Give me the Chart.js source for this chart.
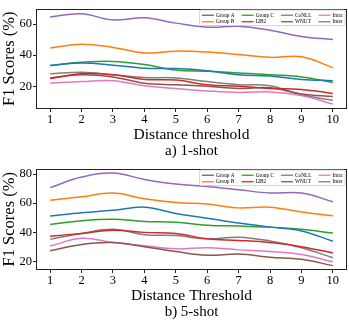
<!DOCTYPE html>
<html>
<head>
<meta charset="utf-8">
<script src="https://cdn.jsdelivr.net/npm/chart.js@4.4.0/dist/chart.umd.min.js"></script>
<style>
  html, body { margin: 0; padding: 0; background: #fff; }
  canvas { display: block; }
</style>
</head>
<body>
<canvas id="oneShot" width="349" height="160"></canvas>
<canvas id="fiveShot" width="349" height="161"></canvas>
<script>
// x categories (distance threshold)
const thresholds = [1, 2, 3, 4, 5, 6, 7, 8, 9, 10];
const seriesNames = ['Group A', 'Group B', 'Group C', 'I2B2', 'CoNLL', 'WNUT', 'Intra', 'Inter'];
const seriesColors = ['#1f77b4', '#ff7f0e', '#2ca02c', '#d62728', '#9467bd', '#8c564b', '#e377c2', '#7f7f7f'];

// a) 1-shot F1 scores (%)
const oneGroupA = [33.4, 35.0, 33.6, 31.6, 31.4, 30.0, 27.4, 26.6, 24.4, 23.6];
const oneGroupB = [44.6, 47.0, 45.0, 41.4, 42.6, 42.0, 40.4, 38.6, 39.0, 32.0];
const oneGroupC = [33.4, 35.4, 36.0, 34.0, 30.4, 29.6, 28.6, 27.4, 26.0, 22.4];
const oneI2B2   = [25.0, 28.0, 27.4, 24.4, 24.0, 21.0, 20.0, 18.6, 18.0, 15.4];
const oneCoNLL  = [64.6, 66.6, 62.6, 64.0, 60.6, 58.0, 58.6, 56.0, 52.0, 50.0];
const oneWNUT   = [25.4, 27.4, 26.0, 22.0, 21.0, 20.0, 18.6, 19.0, 15.0, 13.4];
const oneIntra  = [22.0, 23.0, 23.6, 20.4, 18.6, 17.0, 16.0, 16.4, 14.0, 8.6];
const oneInter  = [28.0, 29.0, 27.4, 25.6, 25.4, 23.0, 21.0, 20.4, 14.6, 11.0];
const oneTicks  = [20, 40, 60];

// b) 5-shot F1 scores (%)
const fiveGroupA = [51.2, 53.4, 55.1, 57.3, 53.0, 49.7, 46.4, 43.6, 41.0, 33.9];
const fiveGroupB = [62.0, 64.4, 67.0, 63.1, 60.5, 59.4, 56.8, 57.3, 54.0, 51.4];
const fiveGroupC = [45.4, 48.0, 49.0, 47.5, 46.9, 44.9, 44.3, 43.6, 42.1, 39.5];
const fiveI2B2   = [37.3, 39.3, 41.5, 40.0, 39.3, 35.6, 34.5, 33.0, 30.2, 25.9];
const fiveCoNLL  = [70.7, 77.9, 80.7, 76.3, 73.1, 71.4, 69.2, 67.0, 67.0, 61.0];
const fiveWNUT   = [27.4, 31.7, 33.0, 30.2, 26.9, 24.3, 25.2, 23.0, 21.5, 17.2];
const fiveIntra  = [30.6, 36.0, 33.0, 30.8, 28.7, 29.5, 28.0, 26.9, 24.8, 19.8];
const fiveInter  = [35.2, 39.3, 42.1, 38.4, 37.8, 35.6, 36.7, 34.1, 29.5, 22.6];
const fiveTicks  = [20, 40, 60, 80];

const SERIF = '"Liberation Serif", "DejaVu Serif", serif';

// Axes frame (all four spines)
const framePlugin = {
  id: 'frame',
  afterDatasetsDraw(chart) {
    const { ctx, chartArea: a } = chart;
    ctx.save();
    ctx.strokeStyle = '#222';
    ctx.lineWidth = 1;
    const l = Math.round(a.left) + 0.5, t = Math.round(a.top) + 0.5;
    const r = Math.round(a.right) - 0.5, b = Math.round(a.bottom) - 0.5;
    ctx.strokeRect(l, t, r - l, b - t);
    ctx.restore();
  }
};

// Small 4-column legend in upper right corner
const cornerLegend = {
  id: 'cornerLegend',
  afterDraw(chart) {
    const { ctx, chartArea: a } = chart;
    const sets = chart.data.datasets;
    const cols = 4, rows = 2;
    const handle = 12, gap = 2, colGap = 7, pad = 2.5, rowH = 6.5;
    ctx.save();
    ctx.font = '5.3px ' + SERIF;
    const colW = [];
    for (let c = 0; c < cols; c++) {
      let w = 0;
      for (let r = 0; r < rows; r++) {
        const d = sets[c * rows + r];
        if (d) w = Math.max(w, ctx.measureText(d.label).width);
      }
      colW.push(handle + gap + w);
    }
    const boxW = colW.reduce((s, w) => s + w, 0) + colGap * (cols - 1) + pad * 2;
    const boxH = rows * rowH + pad;
    const x0 = a.right - 2 - boxW, y0 = a.top + 1.5;
    ctx.fillStyle = 'rgba(255,255,255,0.8)';
    ctx.strokeStyle = '#cccccc';
    ctx.lineWidth = 0.8;
    ctx.beginPath();
    ctx.roundRect(x0, y0, boxW, boxH, 1.5);
    ctx.fill();
    ctx.stroke();
    ctx.textBaseline = 'middle';
    ctx.textAlign = 'left';
    let cx = x0 + pad;
    for (let c = 0; c < cols; c++) {
      for (let r = 0; r < rows; r++) {
        const d = sets[c * rows + r];
        if (!d) continue;
        const cy = y0 + pad + rowH * r + rowH / 2 - 0.5;
        ctx.strokeStyle = d.borderColor;
        ctx.lineWidth = 1.3;
        ctx.beginPath();
        ctx.moveTo(cx, cy);
        ctx.lineTo(cx + handle, cy);
        ctx.stroke();
        ctx.fillStyle = '#000';
        ctx.fillText(d.label, cx + handle + gap, cy + 0.3);
      }
      cx += colW[c] + colGap;
    }
    ctx.restore();
  }
};

function makeChart(id, series, yMin, yMax, yTicks, xTitle, caption, topPad) {
  return new Chart(document.getElementById(id), {
    type: 'line',
    data: {
      datasets: series.map((vals, i) => ({
        label: seriesNames[i],
        data: thresholds.map((t, j) => ({ x: t, y: vals[j] })),
        borderColor: seriesColors[i],
        borderWidth: 1.5,
        pointRadius: 0,
        tension: 0.4,
        fill: false
      }))
    },
    options: {
      responsive: false,
      animation: false,
      events: [],
      layout: { padding: { top: topPad, right: 2, left: 0, bottom: 0 } },
      plugins: {
        legend: { display: false },
        tooltip: { enabled: false },
        title: {
          display: true,
          text: caption,
          position: 'bottom',
          fullSize: false,
          color: '#000',
          font: { family: SERIF, size: 15, weight: 'normal', lineHeight: 1 },
          padding: { top: 0, bottom: 1 }
        }
      },
      scales: {
        x: {
          type: 'linear',
          min: 0.55,
          max: 10.45,
          afterBuildTicks: s => { s.ticks = thresholds.map(v => ({ value: v })); },
          afterFit: s => { s.height = 35; },
          grid: { display: true, drawOnChartArea: false, drawTicks: true, tickLength: 3, tickColor: '#222', tickWidth: 1 },
          border: { display: false },
          ticks: { color: '#000', padding: 0, maxRotation: 0, autoSkip: false, font: { family: SERIF, size: 12.5 } },
          title: { display: true, text: xTitle, color: '#000', padding: { top: 0, bottom: 1 }, font: { family: SERIF, size: 15.5, lineHeight: 1 } }
        },
        y: {
          min: yMin,
          max: yMax,
          afterBuildTicks: s => { s.ticks = yTicks.map(v => ({ value: v })); },
          afterFit: s => { s.width = 36; },
          grid: { display: true, drawOnChartArea: false, drawTicks: true, tickLength: 3, tickColor: '#222', tickWidth: 1 },
          border: { display: false },
          ticks: { color: '#000', padding: 1, font: { family: SERIF, size: 12.5 } },
          title: { display: true, text: 'F1 Scores (%)', color: '#000', padding: { top: 1, bottom: 0 }, font: { family: SERIF, size: 16.5, lineHeight: 1 } }
        }
      }
    },
    plugins: [framePlugin, cornerLegend]
  });
}

makeChart('oneShot',
  [oneGroupA, oneGroupB, oneGroupC, oneI2B2, oneCoNLL, oneWNUT, oneIntra, oneInter],
  5.4, 70, oneTicks, 'Distance threshold', 'a) 1-shot', 2);

makeChart('fiveShot',
  [fiveGroupA, fiveGroupB, fiveGroupC, fiveI2B2, fiveCoNLL, fiveWNUT, fiveIntra, fiveInter],
  14.2, 83.8, fiveTicks, 'Distance Threshold', 'b) 5-shot', 3);
</script>
</body>
</html>
